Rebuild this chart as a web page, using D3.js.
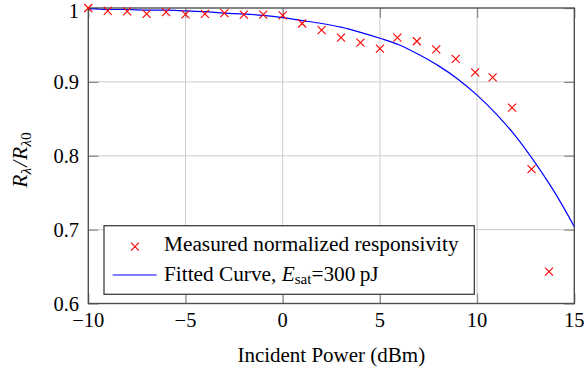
<!DOCTYPE html>
<html><head><meta charset="utf-8">
<script src="https://cdn.jsdelivr.net/npm/d3@7"></script>
<style>
html,body{margin:0;padding:0;background:#fff;}
svg{display:block;}
</style></head>
<body>
<svg id="chart" width="584" height="372" font-family="'Liberation Serif', 'DejaVu Serif', serif"></svg>
<script>
// Measured normalized responsivity
const measX = [-10,-9,-8,-7,-6,-5,-4,-3,-2,-1,0,1,2,3,4,5,5.9,6.9,7.9,8.9,9.9,10.8,11.8,12.8,13.7];
const measY = [1.000,0.996,0.9955,0.992,0.9945,0.9915,0.992,0.993,0.991,0.991,0.990,0.979,0.970,0.960,0.953,0.945,0.960,0.955,0.944,0.931,0.913,0.906,0.865,0.782,0.643];
const fitX = [-10,-9,-8,-7,-6,-5,-4,-3,-2,-1,0,1,2,3,4,5,6,7,8,9,10,11,12,13,14,15];
const fitY = [0.999,0.998,0.998,0.997,0.997,0.996,0.995,0.993,0.992,0.990,0.987,0.983,0.979,0.974,0.967,0.959,0.950,0.937,0.922,0.904,0.882,0.856,0.826,0.790,0.750,0.704];
const xTicks = [-10,-5,0,5,10,15];
const xTickLabels = ["\u221210","\u22125","0","5","10","15"];
const yTicks = [0.6,0.7,0.8,0.9,1.0];
const yTickLabels = ["0.6","0.7","0.8","0.9","1"];

const L = 88.3, R = 574.3, T = 8, B = 303.5;
const svg = d3.select("#chart");
const x = d3.scaleLinear().domain([-10,15]).range([L,R]);
const y = d3.scaleLinear().domain([0.6,1.0]).range([B,T]);

// grid
const grid = svg.append("g").attr("stroke","#cccccc").attr("stroke-width",1);
xTicks.slice(1,-1).forEach(v=>grid.append("line").attr("x1",x(v)).attr("x2",x(v)).attr("y1",T).attr("y2",B));
yTicks.slice(1,-1).forEach(v=>grid.append("line").attr("y1",y(v)).attr("y2",y(v)).attr("x1",L).attr("x2",R));

// axes ticks (inward, all four sides) via d3 axes
const tl = 10;
const axB = svg.append("g").attr("transform",`translate(0,${B})`).call(d3.axisTop(x).tickValues(xTicks).tickSize(tl).tickFormat(""));
const axT = svg.append("g").attr("transform",`translate(0,${T})`).call(d3.axisBottom(x).tickValues(xTicks).tickSize(tl).tickFormat(""));
const axL = svg.append("g").attr("transform",`translate(${L},0)`).call(d3.axisRight(y).tickValues(yTicks).tickSize(tl).tickFormat(""));
const axR = svg.append("g").attr("transform",`translate(${R},0)`).call(d3.axisLeft(y).tickValues(yTicks).tickSize(tl).tickFormat(""));
[axB,axT,axL,axR].forEach(a=>{a.select(".domain").remove();a.selectAll("line").attr("stroke","#8a8a8a").attr("stroke-width",1.2);a.attr("font-family",null);});

const FF = "'Liberation Serif', 'DejaVu Serif', serif";
// tick labels
svg.append("g").selectAll("text").data(xTicks).join("text")
  .attr("font-family",FF)
  .attr("x",d=>x(d)).attr("y",327).attr("text-anchor","middle")
  .attr("font-size",20.5).attr("fill","#000").text((d,i)=>xTickLabels[i]);
svg.append("g").selectAll("text").data(yTicks).join("text")
  .attr("font-family",FF)
  .attr("x",79).attr("y",d=>Math.max(y(d)+7,17.5)).attr("text-anchor","end")
  .attr("font-size",20.5).attr("fill","#000").text((d,i)=>yTickLabels[i]);

// frame
svg.append("rect").attr("x",L).attr("y",T).attr("width",R-L).attr("height",B-T)
  .attr("fill","none").attr("stroke","#505050").attr("stroke-width",1.4);

// fitted curve
const line = d3.line().x((d,i)=>x(fitX[i])).y(d=>y(d)).curve(d3.curveMonotoneX);
svg.append("path").attr("d",line(fitY)).attr("fill","none").attr("stroke","#0000ff").attr("stroke-width",1.2);

// markers
const cs = 4;
function cross(g,cx,cy){
  g.append("path").attr("d",`M${cx-cs},${cy-cs}L${cx+cs},${cy+cs}M${cx-cs},${cy+cs}L${cx+cs},${cy-cs}`)
   .attr("stroke","#ff0000").attr("stroke-width",1.1).attr("fill","none");
}
const mg = svg.append("g");
measX.forEach((v,i)=>cross(mg,x(v),y(measY[i])));

// legend
const lg = svg.append("g");
lg.append("rect").attr("x",104).attr("y",225.7).attr("width",370.3).attr("height",68.6)
  .attr("fill","#fff").attr("stroke","#404040").attr("stroke-width",1.3);
cross(lg,135,246.7);
lg.append("line").attr("x1",112.7).attr("x2",156.7).attr("y1",275).attr("y2",275)
  .attr("stroke","#0000ff").attr("stroke-width",1.2);
lg.append("text").attr("font-family",FF).attr("x",164).attr("y",251).attr("font-size",21.3).text("Measured normalized responsivity");
const t2 = lg.append("text").attr("font-family",FF).attr("x",164).attr("y",280.7).attr("font-size",21.3);
t2.append("tspan").text("Fitted Curve, ");
t2.append("tspan").attr("font-style","italic").text("E");
t2.append("tspan").attr("font-size",15).attr("dy",3).text("sat");
t2.append("tspan").attr("dy",-3).text("=300\u2009pJ");

// axis labels
svg.append("text").attr("font-family",FF).attr("x",(L+R)/2).attr("y",362).attr("text-anchor","middle")
  .attr("font-size",21).text("Incident Power (dBm)");
const yl = svg.append("text").attr("font-family",FF).attr("transform",`translate(27,160) rotate(-90)`)
  .attr("text-anchor","middle").attr("font-size",21.5);
yl.append("tspan").attr("font-style","italic").text("R");
yl.append("tspan").attr("font-style","italic").attr("font-size",15.5).attr("dy",4).text("λ");
yl.append("tspan").attr("dy",-4).attr("font-style","italic").attr("dx",1).text("/");
yl.append("tspan").attr("font-style","italic").attr("dx",1).text("R");
yl.append("tspan").attr("font-style","italic").attr("font-size",15.5).attr("dy",4).text("λ");
yl.append("tspan").attr("font-size",15.5).text("0");
</script>
</body></html>
